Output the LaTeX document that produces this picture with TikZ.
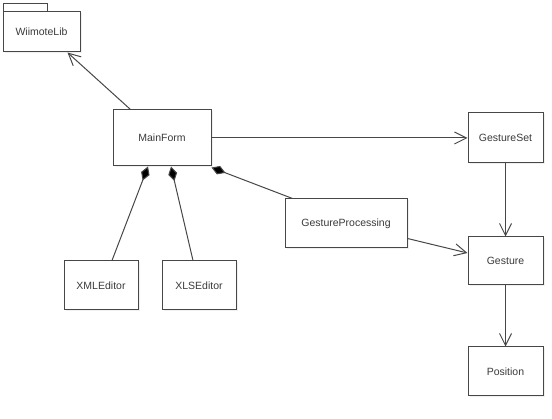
\documentclass[tikz,border=0pt]{standalone}
\usepackage{fontspec}
\setmainfont{Liberation Sans}
\usetikzlibrary{arrows.meta,shadows}
\definecolor{linie}{HTML}{474747}
\definecolor{schrift}{HTML}{3A3A3A}
\begin{document}
\begin{tikzpicture}[x=1pt,y=-1pt]
		\tikzstyle{every node}=[font=\fontsize{10.5pt}{12pt}\selectfont, text=schrift]
		\tikzstyle{klasse}=[draw=linie, line width=1pt, fill=white, inner sep=0pt,
			drop shadow={opacity=0.12, shadow xshift=1.5pt, shadow yshift=-1.5pt}]
		\tikzstyle{pfeil}=[draw=linie, line width=1pt, -{Straight Barb[length=12pt,width=12pt]}]
		\tikzstyle{raute}=[draw=linie, line width=1pt, {Diamond[length=15pt,width=9pt,fill=black]}-]
		
		\useasboundingbox (0,0) rectangle (552,419);
		
		% Paket
		\draw [draw=linie, line width=1pt, fill=white] (3,4) rectangle (47,12);
		\node [klasse, minimum width=77pt, minimum height=40pt] (wiimote) at (41.5,32) {WiimoteLib};
		
		% Klassen
		\node [klasse, minimum width=98pt, minimum height=56pt] (mainform) at (162,138) {MainForm};
		\node [klasse, minimum width=75pt, minimum height=50pt] (gestureset) at (505.5,138) {GestureSet};
		\node [klasse, minimum width=75pt, minimum height=48pt] (gesture) at (505.5,261) {Gesture};
		\node [klasse, minimum width=75pt, minimum height=49pt] (position) at (505.5,371.5) {Position};
		\node [klasse, minimum width=122pt, minimum height=49pt] (gestureprocessing) at (346,223.5) {GestureProcessing};
		\node [klasse, minimum width=74pt, minimum height=49pt] (xmleditor) at (101,285.5) {XMLEditor};
		\node [klasse, minimum width=74pt, minimum height=49pt] (xlseditor) at (199,285.5) {XLSEditor};
		
		% Assoziationen
		\draw [pfeil] ([xshift=18pt]mainform.north west) -- ([xshift=26pt]wiimote.south);
		\draw [pfeil] (mainform.east) -- (gestureset.west);
		\draw [pfeil] (gestureset.south) -- (gesture.north);
		\draw [pfeil] (gesture.south) -- (position.north);
		\draw [pfeil] ([yshift=-15pt]gestureprocessing.east) -- ([yshift=8pt]gesture.west);
		
		% Kompositionen
		\draw [raute] ([xshift=-14pt]mainform.south) -- ([xshift=11pt]xmleditor.north);
		\draw [raute] ([xshift=9pt]mainform.south) -- ([xshift=-6pt]xlseditor.north);
		\draw [raute] ([yshift=-1pt]mainform.south east) -- ([xshift=8pt]gestureprocessing.north west);
		
	\end{tikzpicture}
\end{document}
